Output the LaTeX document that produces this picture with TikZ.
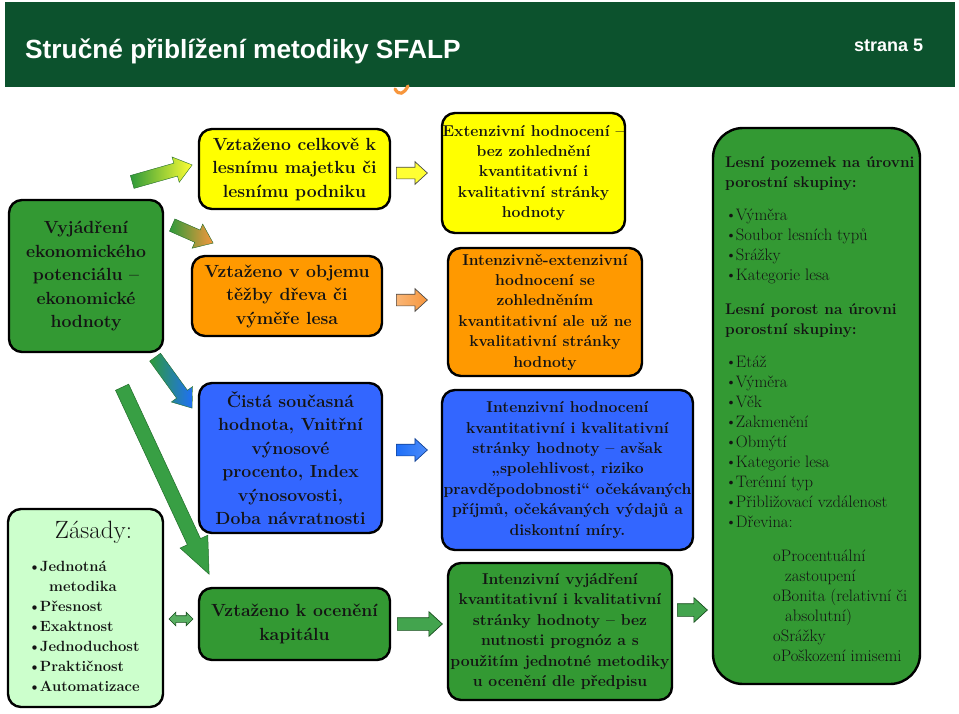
\documentclass[tikz,border=0pt]{standalone}
\usepackage{fontspec}
\usepackage{graphicx}
\usetikzlibrary{shapes.arrows,calc}
\newfontfamily\titlefont{Liberation Sans}
\definecolor{titlegreen}{HTML}{0C522D}
\definecolor{bgreen}{HTML}{339933}
\definecolor{byellow}{HTML}{FFFF00}
\definecolor{borange}{HTML}{FF9900}
\definecolor{bblue}{HTML}{3366FF}
\definecolor{blight}{HTML}{CCFFCC}
\definecolor{txt}{HTML}{141414}
\definecolor{agreen}{HTML}{2E9A3A}
\definecolor{ayellow}{HTML}{FFFF33}
\definecolor{aorange}{HTML}{F7963C}
\definecolor{ablue}{HTML}{1F6FF8}
\tikzset{
  box/.style={draw=black, line width=2.4pt, rounded corners=13pt, inner sep=0pt, align=center, text=txt},
  bigtext/.style={font=\fontsize{17.6}{23.5}\selectfont\bfseries},
  smalltext/.style={font=\fontsize{15.7}{20.4}\selectfont\bfseries},
}
\newcommand\bul{\textbullet\kern-1.2pt}
\newcommand\blockarrow[3]{%
  \path let \p1=($(#2)-(#1)$), \n1={atan2(\y1,\x1)}, \n2={veclen(\x1,\y1)} in
    node[single arrow, anchor=tail, rotate=\n1, minimum height=\n2, inner xsep=0pt, #3] at (#1) {};}
\begin{document}
\begin{tikzpicture}[x=1pt,y=-1pt]
\useasboundingbox (0,0) rectangle (959,713);
\fill[white] (0,0) rectangle (959,713);
% title bar
\node[fill=titlegreen, minimum width=950, minimum height=85, inner sep=0, anchor=north west] (bar) at (5,2) {};
\node[anchor=base west, text=white, font=\titlefont\bfseries\fontsize{26.3}{30}\selectfont, inner sep=0] (title) at (25,58) {Stručné přiblížení metodiky SFALP};
\node[anchor=base west, text=white, font=\titlefont\bfseries\fontsize{18}{22}\selectfont, inner sep=0] (page) at (854,51) {strana 5};
\draw[color=aorange, line width=3.2pt, line cap=round] (395,89) .. controls (399,96) and (404,94) .. (408,86);
% column 1/2 boxes
\node[box, fill=bgreen, bigtext, minimum width=154, minimum height=152] (econ) at (86,276) {Vyjádření\\ekonomického\\potenciálu –\\ekonomické\\hodnoty};
\node[box, fill=byellow, bigtext, minimum width=191, minimum height=80] (y1) at (294.5,169) {Vztaženo celkově k\\lesnímu majetku či\\lesnímu podniku};
\node[box, fill=borange, bigtext, minimum width=190, minimum height=80] (o1) at (287,296) {Vztaženo v objemu\\těžby dřeva či\\výměře lesa};
\node[box, fill=bblue, bigtext, minimum width=183, minimum height=150] (b1) at (290.5,458) {Čistá současná\\hodnota, Vnitřní\\výnosové\\procento, Index\\výnosovosti,\\Doba návratnosti};
\node[box, fill=blight, minimum width=155, minimum height=198] (zas) at (85.5,608) {};
\node[anchor=base, inner sep=0, text=txt, font=\fontsize{25}{28}\selectfont] (zastitle) at (93.5,538) {Zásady:};
\node[anchor=north west, inner sep=0, align=left, text=txt, font=\fontsize{14.8}{20}\selectfont\bfseries] (zasitems) at (28,561) {\bul Jednotná\\\hspace*{21pt}metodika\\\bul Přesnost\\\bul Exaktnost\\\bul Jednoduchost\\\bul Praktičnost\\\bul Automatizace};
\node[box, fill=bgreen, bigtext, minimum width=191, minimum height=72] (g1) at (294.5,624) {Vztaženo k ocenění\\kapitálu};
% column 3 boxes
\node[box, fill=byellow, smalltext, minimum width=183, minimum height=120] (y2) at (533.5,173) {Extenzivní hodnocení –\\bez zohlednění\\kvantitativní i\\kvalitativní stránky\\hodnoty};
\node[box, fill=borange, smalltext, minimum width=194, minimum height=128] (o2) at (545,312) {Intenzivně-extenzivní\\hodnocení se\\zohledněním\\kvantitativní ale už ne\\kvalitativní stránky\\hodnoty};
\node[box, fill=bblue, smalltext, minimum width=251, minimum height=160] (b2) at (567.5,470) {Intenzivní hodnocení\\kvantitativní i kvalitativní\\stránky hodnoty – avšak\\„spolehlivost, riziko\\pravděpodobnosti“ očekávaných\\příjmů, očekávaných výdajů a\\diskontní míry.};
\node[box, fill=bgreen, smalltext, minimum width=224, minimum height=137] (g2) at (560,631.5) {Intenzivní vyjádření\\kvantitativní i kvalitativní\\stránky hodnoty – bez\\nutnosti prognóz a s\\použitím jednotné metodiky\\u ocenění dle předpisu};
% right box
\node[box, fill=bgreen, rounded corners=30pt, minimum width=207, minimum height=556] (rbox) at (816.5,406) {};
\node[anchor=north west, inner sep=0, align=left, text=txt, font=\fontsize{16.6}{20}\selectfont] (rtext) at (725,156) {%
{\fontsize{15.4}{20}\selectfont\bfseries Lesní pozemek na úrovni}\\
{\fontsize{15.4}{20}\selectfont\bfseries porostní skupiny:}\\[13pt]
\bul Výměra\\
\bul Soubor lesních typů\\
\bul Srážky\\
\bul Kategorie lesa\\[14pt]
{\fontsize{15.4}{20}\selectfont\bfseries Lesní porost na úrovni}\\
{\fontsize{15.4}{20}\selectfont\bfseries porostní skupiny:}\\[13pt]
\bul Etáž\\
\bul Výměra\\
\bul Věk\\
\bul Zakmenění\\
\bul Obmýtí\\
\bul Kategorie lesa\\
\bul Terénní typ\\
\bul Přibližovací vzdálenost\\
\bul Dřevina:\\[14pt]
\hspace*{48pt}oProcentuální\\
\hspace*{60pt}zastoupení\\
\hspace*{48pt}oBonita (relativní či\\
\hspace*{60pt}absolutní)\\
\hspace*{48pt}oSrážky\\
\hspace*{48pt}oPoškození imisemi};
% arrow end points
\coordinate (a1s) at (132,182); \coordinate (a1e) at (192,165);
\coordinate (a2s) at (172,225); \coordinate (a2e) at (213,243);
\coordinate (a3s) at (155,357); \coordinate (a3e) at (192,408);
\coordinate (a4s) at (122,387); \coordinate (a4e) at (209,574);
\coordinate (r1s) at (396,173); \coordinate (r1e) at (427,173);
\coordinate (r2s) at (396,300); \coordinate (r2e) at (427,300);
\coordinate (r3s) at (396,450); \coordinate (r3e) at (427,450);
\coordinate (r4s) at (397,624); \coordinate (r4e) at (442,624);
\coordinate (r5s) at (677,610); \coordinate (r5e) at (707,610);
% diagonal arrows
\blockarrow{a1s}{a1e}{name=arr1, inner ysep=6.5pt, single arrow head extend=6.5pt, single arrow tip angle=75, left color=agreen, right color=ayellow, draw=agreen!70!black, line width=0.4pt}
\blockarrow{a2s}{a2e}{name=arr2, inner ysep=6.5pt, single arrow head extend=6.5pt, single arrow tip angle=75, left color=agreen, right color=aorange, draw=agreen!70!black, line width=0.4pt}
\blockarrow{a3s}{a3e}{name=arr3, inner ysep=6.5pt, single arrow head extend=6.5pt, single arrow tip angle=75, left color=agreen, right color=ablue, draw=agreen!70!black, line width=0.4pt}
\blockarrow{a4s}{a4e}{name=arr4, inner ysep=7pt, single arrow head extend=8pt, single arrow tip angle=46, fill=agreen!95!white, draw=agreen!70!black, line width=0.5pt}
% small right arrows
\blockarrow{r1s}{r1e}{name=arr5, inner ysep=5.5pt, single arrow head extend=5.5pt, single arrow tip angle=85, fill=ayellow, draw=black!70, line width=0.7pt}
\blockarrow{r2s}{r2e}{name=arr6, inner ysep=5.5pt, single arrow head extend=5.5pt, single arrow tip angle=85, left color=aorange!70!white, right color=aorange, draw=black!70, line width=0.7pt}
\blockarrow{r3s}{r3e}{name=arr7, inner ysep=5.5pt, single arrow head extend=5.5pt, single arrow tip angle=85, left color=ablue, right color=ablue!80!white, draw=ablue!60!black, line width=0.7pt}
\blockarrow{r4s}{r4e}{name=arr8, inner ysep=6pt, single arrow head extend=6pt, single arrow tip angle=85, fill=agreen!90!white, draw=agreen!50!black, line width=0.7pt}
\blockarrow{r5s}{r5e}{name=arr9, inner ysep=6pt, single arrow head extend=6pt, single arrow tip angle=85, fill=agreen!90!white, draw=agreen!50!black, line width=0.7pt}
% double arrow between Zasady and capital
\node[double arrow, minimum height=24pt, inner xsep=0pt, inner ysep=3pt, double arrow head extend=3.5pt, left color=agreen!80!white, middle color=blight!60!white, right color=agreen!80!white, draw=agreen!50!black, line width=0.6pt] (dbl) at (181,619) {};
\end{tikzpicture}
\end{document}
